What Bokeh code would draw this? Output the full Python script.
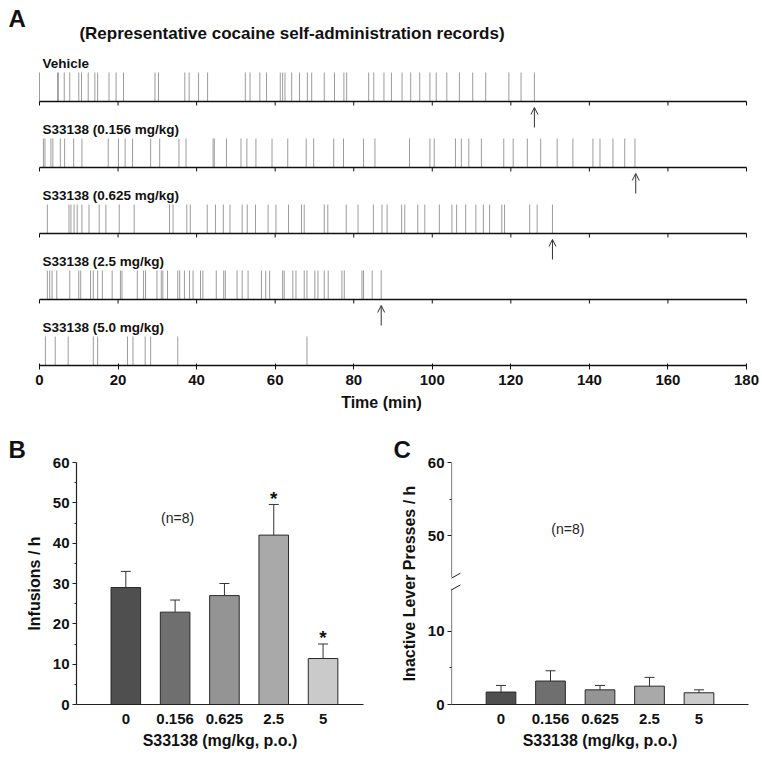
from bokeh.plotting import figure
from bokeh.models import (Range1d, FixedTicker, ColumnDataSource, Arrow, OpenHead,
                          Whisker, TeeHead)
from bokeh.layouts import column, row
from bokeh.embed import file_html
from bokeh.resources import INLINE
from bokeh.core.properties import value

FONT = "Liberation Sans"

# ---------------- data: panel A (event times, min) ----------------
row_names = ["Vehicle", "S33138 (0.156 mg/kg)", "S33138 (0.625 mg/kg)",
             "S33138 (2.5 mg/kg)", "S33138 (5.0 mg/kg)"]
vehicle_times = [0.0, 4.6, 4.8, 6.3, 7.7, 10.0, 10.7, 12.4, 14.1, 14.8, 17.7, 19.5, 21.4,
                 29.4, 30.3, 37.0, 38.1, 40.5, 42.8, 52.4, 53.6, 56.1, 57.8, 61.3, 61.9,
                 62.5, 64.2, 66.2, 68.2, 69.3, 72.5, 75.1, 77.5, 78.2, 83.8, 85.1, 87.7,
                 89.6, 92.3, 94.5, 96.8, 99.4, 101.0, 103.7, 106.9, 110.3, 113.6, 119.5,
                 122.6, 126.0]
dose0156_times = [1.0, 1.4, 2.9, 3.4, 5.3, 6.4, 8.7, 10.8, 17.5, 20.1, 21.8, 23.7, 28.3,
                  30.6, 35.5, 37.3, 44.2, 44.5, 47.6, 51.3, 52.8, 55.1, 59.2, 63.2, 67.9,
                  69.8, 74.9, 77.4, 82.5, 85.4, 94.2, 99.4, 100.5, 105.9, 107.4, 109.3,
                  112.5, 118.2, 120.6, 124.2, 127.6, 131.8, 135.8, 140.9, 142.7, 146.0,
                  149.0, 151.6]
dose0625_times = [2.0, 7.5, 8.0, 8.8, 9.6, 10.8, 12.6, 15.2, 16.9, 20.3, 24.1, 33.1, 34.0,
                  37.5, 38.4, 42.7, 44.8, 46.8, 48.5, 51.6, 52.9, 55.0, 58.2, 60.2, 63.4,
                  66.7, 67.4, 72.5, 73.4, 78.1, 81.1, 85.0, 87.2, 88.5, 92.2, 93.0, 96.3,
                  98.1, 101.8, 105.0, 106.2, 108.5, 111.1, 113.0, 114.6, 117.7, 118.4,
                  124.8, 126.7, 130.6]
dose25_times = [2.0, 2.6, 3.2, 4.4, 7.7, 10.0, 10.5, 13.0, 13.7, 14.8, 16.0, 18.5, 20.6,
                21.0, 24.9, 26.5, 27.0, 29.9, 31.0, 31.4, 32.6, 35.2, 35.7, 36.9, 38.2,
                39.1, 41.0, 41.6, 45.0, 46.9, 47.3, 50.3, 51.6, 53.1, 56.5, 57.6, 58.6,
                61.9, 62.3, 64.5, 65.3, 67.4, 68.1, 70.1, 70.9, 72.5, 73.5, 77.0, 77.6,
                82.1, 82.5, 84.7, 87.0]
dose50_times = [1.5, 4.0, 7.3, 13.7, 14.8, 22.4, 23.8, 26.9, 28.3, 35.2, 68.1]
session_end = [126.0, 151.8, 130.6, 87.0, None]
time_ticks = [0, 20, 40, 60, 80, 100, 120, 140, 160, 180]

# ---------------- data: panels B and C ----------------
doses = ["0", "0.156", "0.625", "2.5", "5"]
infusions_mean = [29.0, 22.9, 27.0, 42.0, 11.4]
infusions_sem = [4.0, 3.0, 3.0, 7.6, 3.6]
infusions_sig = [False, False, False, True, True]
inactive_mean = [1.7, 3.2, 2.0, 2.5, 1.6]
inactive_sem = [0.9, 1.4, 0.6, 1.2, 0.4]
bar_colors = ["#4f4f4f", "#6f6f6f", "#949494", "#a9a9a9", "#cacaca"]
b_ticks = [0, 10, 20, 30, 40, 50, 60]
c_ticks = [0, 10, 50, 60]

records = [vehicle_times, dose0156_times, dose0625_times, dose25_times, dose50_times]

PAD = 8  # page offset

# ---------------- panel A ----------------
PX_MIN = 707.0 / 180.0
ROW_STEP = 66
EVENT_H = 29
n_rows = len(records)
bases = [(n_rows - 1 - i) * ROW_STEP for i in range(n_rows)]

pA = figure(frame_width=746, frame_height=357, output_backend="svg", toolbar_location=None,
            x_range=Range1d(-31 / PX_MIN, 180 + 8 / PX_MIN), y_range=Range1d(0, 357),
            y_axis_location=None, min_border=0, min_border_left=PAD, min_border_top=PAD,
            min_border_right=PAD, min_border_bottom=53)
pA.outline_line_color = None
pA.xgrid.visible = False
pA.ygrid.visible = False

ev_x, ev_y0, ev_y1 = [], [], []
for b, times in zip(bases, records):
    for t in times:
        ev_x.append(t); ev_y0.append(b); ev_y1.append(b + EVENT_H)
pA.segment(x0=ev_x, y0=ev_y0, x1=ev_x, y1=ev_y1, line_color="#9c9c9c", line_width=1)

# baselines for upper rows (last row uses the real axis)
up_bases = bases[:-1]
pA.segment(x0=[time_ticks[0]] * len(up_bases), x1=[time_ticks[-1]] * len(up_bases),
           y0=up_bases, y1=up_bases, line_color="#111111", line_width=1.5)
tk_x, tk_y0, tk_y1 = [], [], []
for b in up_bases:
    for t in time_ticks:
        tk_x.append(t); tk_y0.append(b); tk_y1.append(b - 4)
pA.segment(x0=tk_x, y0=tk_y0, x1=tk_x, y1=tk_y1, line_color="#111111", line_width=1)

# end-of-session arrows
ar = dict(x=[], y0=[], y1=[])
for b, e in zip(bases, session_end):
    if e is not None:
        ar["x"].append(e); ar["y0"].append(b - 26); ar["y1"].append(b - 6)
pA.add_layout(Arrow(end=OpenHead(size=7, line_width=1, line_color="#333333"),
                    x_start="x", y_start="y0", x_end="x", y_end="y1",
                    source=ColumnDataSource(ar), line_color="#333333", line_width=1))

pA.text(x=[0] * n_rows, y=[b + 38 for b in bases], text=row_names, x_offset=3,
        text_baseline="middle", text_align="left", text_font=value(FONT),
        text_font_style="bold", text_font_size="13.5px", text_color="#111111")
pA.text(x=[(291.5 - 39) / PX_MIN], y=[332], text=["(Representative cocaine self-administration records)"],
        text_baseline="middle", text_align="center", text_font=value(FONT),
        text_font_style="bold", text_font_size="17px", text_color="#111111")
pA.text(x=[(8 - 39) / PX_MIN], y=[347], text=["A"], text_baseline="middle", text_align="left",
        text_font=value(FONT), text_font_style="bold", text_font_size="24px", text_color="#111111")

ax = pA.xaxis[0]
ax.bounds = (time_ticks[0], time_ticks[-1])
ax.ticker = FixedTicker(ticks=time_ticks)
ax.axis_line_width = 1.5
ax.axis_line_color = "#111111"
ax.major_tick_in = 2
ax.major_tick_out = 4
ax.major_tick_line_color = "#111111"
ax.minor_tick_line_color = None
ax.major_label_text_font = FONT
ax.major_label_text_font_style = "bold"
ax.major_label_text_font_size = "15px"
ax.major_label_text_color = "#111111"
ax.major_label_standoff = 5
ax.axis_label = "Time (min)"
ax.axis_label_text_font = FONT
ax.axis_label_text_font_style = "bold"
ax.axis_label_text_font_size = "16px"
ax.axis_label_text_color = "#111111"
ax.axis_label_standoff = 6


# ---------------- bar panels ----------------
def style_bar_axes(p, ylabel, letter, letter_offset):
    p.outline_line_color = None
    p.xgrid.visible = False
    p.ygrid.visible = False
    p.title.text = letter
    p.title.align = "left"
    p.title.offset = letter_offset
    p.title.standoff = 0
    p.title.text_font = FONT
    p.title.text_font_style = "bold"
    p.title.text_font_size = "24px"
    p.title.text_color = "#111111"
    xa = p.xaxis[0]
    xa.ticker = FixedTicker(ticks=list(range(1, len(doses) + 1)))
    xa.major_label_overrides = {i + 1: d for i, d in enumerate(doses)}
    xa.major_tick_in = 0
    xa.major_tick_out = 0
    xa.minor_tick_line_color = None
    xa.major_label_standoff = 9
    xa.axis_label = "S33138 (mg/kg, p.o.)"
    xa.axis_label_standoff = 5
    ya = p.yaxis[0]
    ya.axis_label = ylabel
    ya.major_tick_in = 0
    ya.major_tick_out = 4
    ya.minor_tick_in = 0
    ya.minor_tick_out = 2
    ya.major_label_standoff = 3
    ya.axis_label_standoff = 7
    for a in (xa, ya):
        a.axis_line_color = "#222222"
        a.axis_line_width = 1.2
        a.major_tick_line_color = "#222222"
        a.major_label_text_font = FONT
        a.major_label_text_font_style = "bold"
        a.major_label_text_font_size = "15px"
        a.major_label_text_color = "#111111"
        a.axis_label_text_font = FONT
        a.axis_label_text_font_style = "bold"
        a.axis_label_text_font_size = "16px"
        a.axis_label_text_color = "#111111"
    ya.minor_tick_line_color = "#222222"


def draw_bars(p, means, sems, disp):
    xs = list(range(1, len(doses) + 1))
    p.vbar(x=xs, top=[disp(m) for m in means], width=0.6, bottom=0,
           fill_color=bar_colors, line_color="#2a2a2a", line_width=1)
    src = ColumnDataSource(dict(x=xs, lo=[disp(m) for m in means],
                                hi=[disp(m + s) for m, s in zip(means, sems)]))
    p.add_layout(Whisker(base="x", lower="lo", upper="hi", source=src, dimension="height",
                         lower_head=None, upper_head=TeeHead(size=10, line_color="#333333", line_width=1),
                         line_color="#333333", line_width=1, level="annotation"))


# Panel B
pB = figure(frame_width=287, frame_height=242, output_backend="svg", toolbar_location=None,
            x_range=Range1d(0, 5.82), y_range=Range1d(b_ticks[0], b_ticks[-1]),
            min_border_left=68 + PAD, min_border_right=20, min_border_top=44, min_border_bottom=49)
style_bar_axes(pB, "Infusions / h", "B", -68)
pB.yaxis[0].ticker = FixedTicker(ticks=b_ticks, minor_ticks=[t + 5 for t in b_ticks[:-1]])
draw_bars(pB, infusions_mean, infusions_sem, lambda v: v)
sx = [i + 1 for i, s in enumerate(infusions_sig) if s]
sy = [infusions_mean[i] + infusions_sem[i] + 1.5 for i, s in enumerate(infusions_sig) if s]
pB.text(x=sx, y=sy, text=["*"] * len(sx), text_align="center", text_baseline="alphabetic",
        text_font=value(FONT), text_font_style="bold", text_font_size="19px", text_color="#111111")
pB.text(x=[2.05], y=[46.2], text=["(n=8)"], text_align="center", text_baseline="middle",
        text_font=value(FONT), text_font_size="14px", text_color="#222222")

# Panel C (broken axis)
BREAK_LOW = 15.8
BREAK_HIGH = 44.4
SHIFT = 27


def c_disp(v):
    return v if v <= BREAK_LOW else v - SHIFT


pC = figure(frame_width=297, frame_height=242, output_backend="svg", toolbar_location=None,
            x_range=Range1d(0, 6.0), y_range=Range1d(0, c_disp(c_ticks[-1])),
            min_border_left=68, min_border_right=14, min_border_top=44, min_border_bottom=49)
style_bar_axes(pC, "Inactive Lever Presses / h", "C", -58)
c_minor = [5, 55]
pC.yaxis[0].ticker = FixedTicker(ticks=[c_disp(t) for t in c_ticks],
                                 minor_ticks=[c_disp(t) for t in c_minor])
pC.yaxis[0].major_label_overrides = {c_disp(t): str(t) for t in c_ticks}
pC.yaxis[0].axis_line_color = None
draw_bars(pC, inactive_mean, inactive_sem, c_disp)
for y0, y1 in [(0, BREAK_LOW), (c_disp(BREAK_HIGH), c_disp(c_ticks[-1]))]:
    pC.add_layout(Arrow(start=None, end=None, x_start=0, y_start=y0, x_end=0, y_end=y1,
                        line_color="#222222", line_width=1.2))
for yb in [BREAK_LOW, c_disp(BREAK_HIGH)]:
    pC.add_layout(Arrow(start=None, end=None, x_start=-0.09, y_start=yb - 0.5,
                        x_end=0.18, y_end=yb + 0.5, line_color="#222222", line_width=1))
pC.text(x=[2.35], y=[c_disp(51.0)], text=["(n=8)"], text_align="center", text_baseline="middle",
        text_font=value(FONT), text_font_size="14px", text_color="#222222")

layout = column(pA, row(pB, pC))
open("out.html", "w").write(file_html(layout, INLINE))
